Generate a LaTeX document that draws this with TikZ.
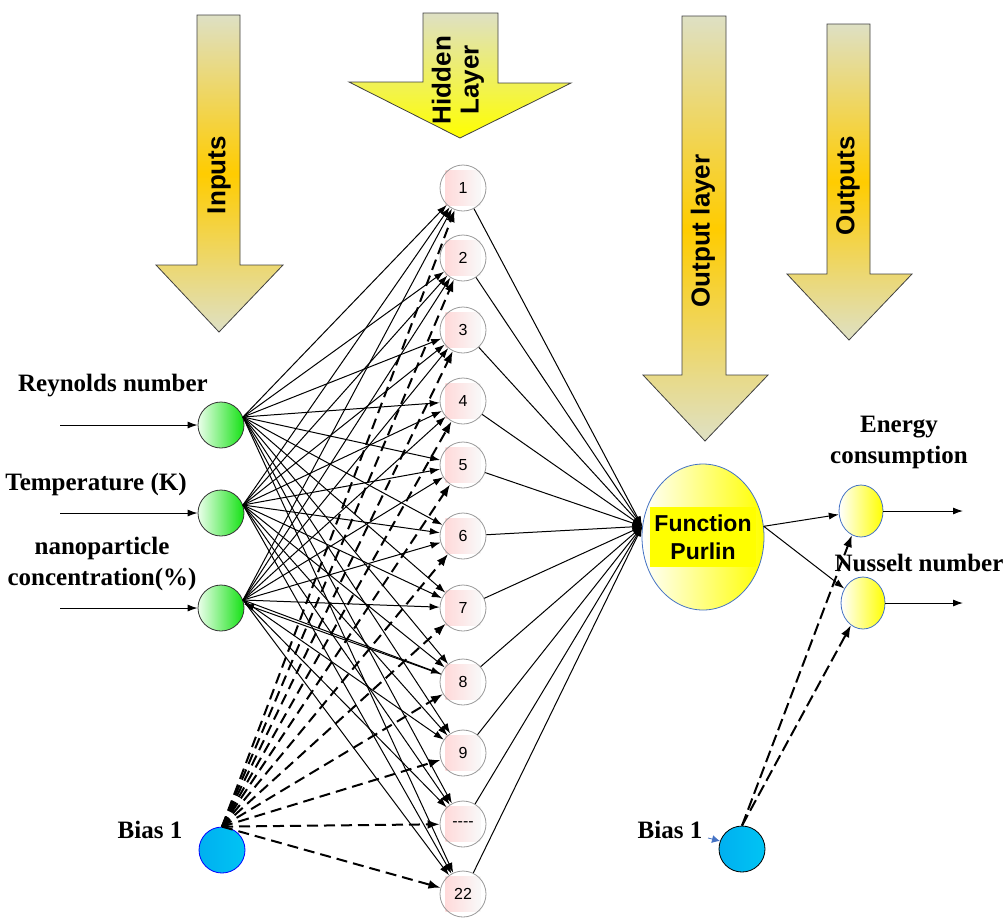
\documentclass[tikz,border=0pt]{standalone}
\usepackage{fontspec}
\setmainfont{Liberation Serif}
\setsansfont{Liberation Sans}
\usepackage{tikz}
\usetikzlibrary{arrows.meta}
\usetikzlibrary{shapes.geometric}
\usetikzlibrary{backgrounds}
\usepackage{xcolor}
\definecolor{ColA}{RGB}{222,224,196}
\definecolor{ColB}{RGB}{255,204,0}
\definecolor{ColC}{RGB}{20,225,20}
\definecolor{ColD}{RGB}{0,176,240}
\definecolor{ColE}{RGB}{68,114,196}
\definecolor{ColF}{RGB}{255,255,0}
\definecolor{ColG}{RGB}{255,218,218}
\tikzstyle{BlockArrow}=[draw=black!75,top color=ColA,bottom color=ColA,middle color=ColB]
\tikzstyle{HiddenArrow}=[draw=black!75,top color=ColA,bottom color=ColF]
\tikzstyle{ArrowText}=[rotate=90,font=\sffamily\bfseries\fontsize{13}{14}\selectfont,align=center]
\tikzstyle{LabelText}=[font=\bfseries\fontsize{12.5}{15.5}\selectfont,align=center,inner sep=1pt]
\tikzstyle{NodeInput}=[circle,draw=black!80,left color=green!8,right color=ColC,minimum size=23pt,inner sep=0pt]
\tikzstyle{NodeHidden}=[circle,draw=gray!80,minimum size=23pt,inner sep=0pt,font=\sffamily\fontsize{8}{9}\selectfont]
\tikzstyle{HiddenBack}=[left color=ColG,right color=gray!5]
\tikzstyle{NodeOutput}=[ellipse,draw=ColE,left color=white,right color=ColF,minimum width=22pt,minimum height=26pt,inner sep=0pt]
\tikzstyle{NodeBias}=[circle,left color=ColD,right color=ColD!75!cyan,minimum size=23pt,inner sep=0pt]
\tikzstyle{FuncText}=[fill=ColF,font=\sffamily\bfseries\fontsize{11.5}{14}\selectfont,align=center,inner sep=2pt,minimum width=49.5pt,minimum height=30pt]
\tikzstyle{EdgeGraph}=[-{Latex[length=5pt,width=3.5pt]},line width=0.5pt]
\tikzstyle{EdgeBias}=[-{Latex[length=6pt,width=4.5pt]},line width=1pt,dash pattern=on 5.5pt off 3pt]
\tikzstyle{EdgeOut}=[-{Latex[length=5pt,width=3.5pt]},line width=0.5pt]

\begin{document}
\begin{tikzpicture}[x=0.5pt,y=-0.5pt]
        \useasboundingbox(0,0)rectangle(1005,918);
        % banner arrows
        \draw[BlockArrow](197,15)--(240,15)--(240,265)--(283,265)--(219,332)--(156,265)--(197,265)--cycle;
        \draw[HiddenArrow](423,13)--(498,13)--(498,83)--(571,83)--(460,138)--(349,82)--(423,82)--cycle;
        \draw[BlockArrow](682,16)--(726,16)--(726,375)--(768,375)--(705,441)--(643,375)--(682,375)--cycle;
        \draw[BlockArrow](827,24)--(870,24)--(870,274)--(912,274)--(849,340)--(787,274)--(827,274)--cycle;
        \node[ArrowText](inputs)at(219,175){Inputs};
        \node[ArrowText](hidden)at(458,80){Hidden\\Layer};
        \node[ArrowText](outlayer)at(703,231){Output layer};
        \node[ArrowText](outputs)at(848,186){Outputs};
        % inputs
        \node[NodeInput](in1)at(221,425){};
        \node[NodeInput](in2)at(221,513){};
        \node[NodeInput](in3)at(221,608){};
        \node[NodeBias,draw=blue](bias1)at(222,850){};
        \coordinate(s1)at(60,425);
        \coordinate(s2)at(60,513);
        \coordinate(s3)at(60,608);
        \node[LabelText](reynolds)at(113,386){Reynolds number};
        \node[LabelText](temp)at(96,484){Temperature (K)};
        \node[LabelText](nano)at(102,564){nanoparticle\\concentration(\%)};
        \node[LabelText](biaslab1)at(150,830){Bias 1};
        % hidden layer
        \node[NodeHidden](h1)at(463,188){1};
        \node[NodeHidden](h2)at(463,258){2};
        \node[NodeHidden](h3)at(463,330){3};
        \node[NodeHidden](h4)at(463,401){4};
        \node[NodeHidden](h5)at(463,465){5};
        \node[NodeHidden](h6)at(463,536){6};
        \node[NodeHidden](h7)at(463,608){7};
        \node[NodeHidden](h8)at(463,682){8};
        \node[NodeHidden](h9)at(463,753){9};
        \node[NodeHidden](h10)at(463,824){{-}{-}{-}{-}};
        \node[NodeHidden](h11)at(463,894){22};
        \begin{scope}[on background layer]
        \foreach \k in {1,...,11}
            \shade[HiddenBack]([xshift=-0.5pt,yshift=-0.5pt]h\k.south west)rectangle([xshift=0.5pt,yshift=0.5pt]h\k.north east);
        \end{scope}
        % output layer
        \node[NodeOutput,minimum width=61pt,minimum height=73pt](fp)at(703,537){};
        \node[FuncText](fptext)at(fp.center){Function\\Purlin};
        \node[NodeOutput](o1)at(861,511){};
        \node[NodeOutput](o2)at(863,603){};
        \node[NodeBias,draw=black](bias2)at(742,849){};
        \coordinate(e1)at(963,511);
        \coordinate(e2)at(963,603);
        \coordinate(bstub)at(708,838);
        \node[LabelText](energy)at(899,442){Energy\\consumption};
        \node[LabelText,fill=white](nusselt)at(919,563){Nusselt number};
        \node[LabelText](biaslab2)at(670,830){Bias 1};
        % connectors
        \draw[EdgeGraph](s1)--(in1);
        \draw[EdgeGraph](s2)--(in2);
        \draw[EdgeGraph](s3)--(in3);
        \foreach \i in {1,2,3}
            \foreach \k in {1,...,11}
                \draw[EdgeGraph](in\i.20)--(h\k);
        \draw[EdgeGraph,{Latex[length=5pt,width=3.5pt]}-](in3.10)--(h8);
        \foreach \k in {1,...,11}
            \draw[EdgeBias](bias1.north)--(h\k);
        \foreach \k in {1,...,11}
            \draw[EdgeGraph](h\k)--(fp.170);
        \draw[EdgeGraph](fp.10)--(o1);
        \draw[EdgeGraph](fp.10)--(o2);
        \draw[EdgeOut](o1.east)--(e1);
        \draw[EdgeOut](o2.east)--(e2);
        \draw[EdgeBias,dash pattern=on 6pt off 2.5pt](bias2.north)--(o1);
        \draw[EdgeBias,dash pattern=on 6pt off 2.5pt](bias2.north)--(o2);
        \draw[ColE,-{Latex[length=4pt,width=4pt]}](bstub)--(bias2.160);
    \end{tikzpicture}
\end{document}
